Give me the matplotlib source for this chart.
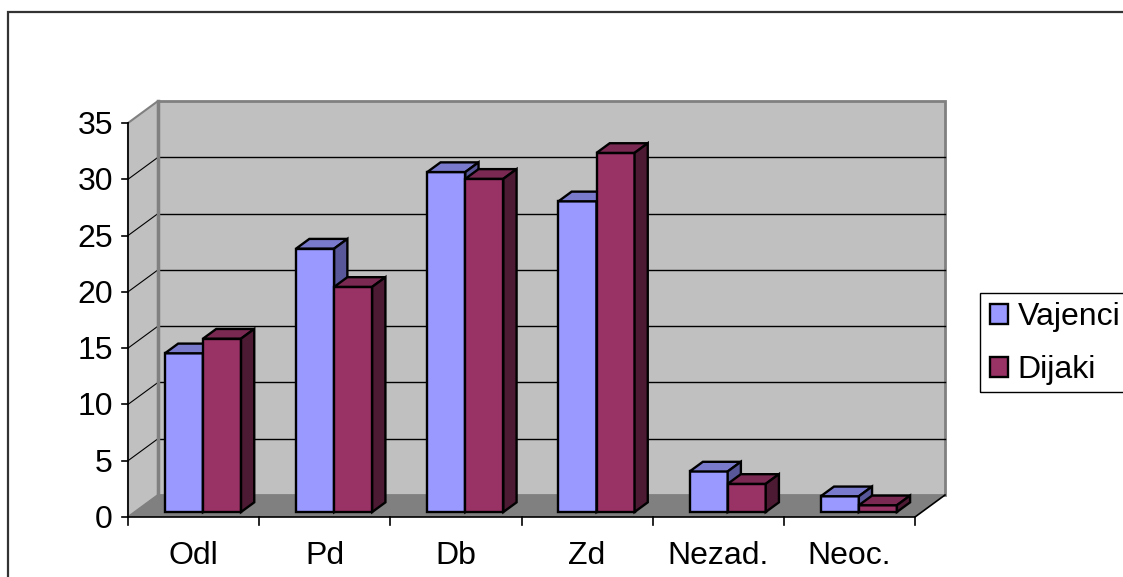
import matplotlib.pyplot as plt
import numpy as np
from matplotlib.patches import Polygon, Rectangle

plt.rcParams['font.family'] = ['Liberation Sans', 'DejaVu Sans']

categories = ['Odl', 'Pd', 'Db', 'Zd', 'Nezad.', 'Neoc.']
vajenci = [14.1, 23.4, 30.2, 27.6, 3.6, 1.4]
dijaki = [15.4, 20.0, 29.6, 31.9, 2.5, 0.6]
series = [('Vajenci', vajenci, '#9999FF', '#7A7ACC', '#575799'),
          ('Dijaki', dijaki, '#993366', '#7A2952', '#4D1A33')]
yticks = [0, 5, 10, 15, 20, 25, 30, 35]

fig = plt.figure(figsize=(11.23, 5.77), dpi=100)
W, H = 1123, 577
# front plane of the plot area in pixels
x0p, x1p, y0p, y1p = 128, 915, 517, 123
ax = fig.add_axes([x0p / W, 1 - y0p / H, (x1p - x0p) / W, (y0p - y1p) / H])
n = len(categories)
ymax = 35
ax.set_xlim(0, n)
ax.set_ylim(0, ymax)
ax.axis('off')

sx = (x1p - x0p) / n          # px per category
sy = (y0p - y1p) / ymax       # px per unit
DX, DY = 30 / sx, 22 / sy     # depth of the 3d box in data units
fs = 23

kw = dict(clip_on=False)
# side wall, back wall, floor
ax.add_patch(Polygon([(0, 0), (DX, DY), (DX, ymax + DY), (0, ymax)], closed=True,
                     fc='#C0C0C0', ec='#808080', lw=1.5, zorder=1, **kw))
ax.add_patch(Polygon([(DX, DY), (n + DX, DY), (n + DX, ymax + DY), (DX, ymax + DY)], closed=True,
                     fc='#C0C0C0', ec='#808080', lw=2, zorder=1, **kw))
ax.add_patch(Polygon([(0, 0), (n, 0), (n + DX, DY), (DX, DY)], closed=True,
                     fc='#808080', ec='none', zorder=2, **kw))
for v in yticks[1:-1]:
    ax.plot([DX, n + DX], [v + DY, v + DY], color='black', lw=1, zorder=2, **kw)
    ax.plot([0, DX], [v, v + DY], color='black', lw=0.8, zorder=2, **kw)
ax.plot([DX, DX], [DY, ymax + DY], color='#808080', lw=2.5, zorder=2, **kw)

# axes lines and ticks
ax.plot([0, 0], [0, ymax], color='black', lw=1.2, zorder=3, **kw)
ax.plot([0, n, n + DX], [0, 0, DY], color='black', lw=1.2, zorder=3, **kw)
tx = 6 / sx
ty = 8 / sy
for v in yticks:
    ax.plot([-tx, 0], [v, v], color='black', lw=1.2, zorder=3, **kw)
    ax.text(-15 / sx, v - 11 / sy, str(v), ha='right', va='baseline', fontsize=fs)
for i in range(n + 1):
    ax.plot([i, i], [0, -ty], color='black', lw=1.2, zorder=3, **kw)
for i, c in enumerate(categories):
    ax.text(i + 0.5, -47 / sy, c, ha='center', va='baseline', fontsize=fs)

# 3d bars
f0, fd = 0.227, 0.44
bw = 0.29
start = 0.23
z = 4
handles = []
for i in range(n):
    for k, (name, vals, front, top, side) in enumerate(series):
        h = vals[i]
        xl = i + start + k * bw + f0 * DX
        yb = f0 * DY
        bdx, bdy = fd * DX, fd * DY
        b = ax.bar(xl, h, width=bw, bottom=yb, align='edge', color=front,
                   edgecolor='black', linewidth=1.7, zorder=z, **kw)
        ax.add_patch(Polygon([(xl, yb + h), (xl + bw, yb + h), (xl + bw + bdx, yb + h + bdy),
                              (xl + bdx, yb + h + bdy)], closed=True, fc=top, ec='black',
                             lw=1.7, zorder=z, **kw))
        ax.add_patch(Polygon([(xl + bw, yb), (xl + bw, yb + h), (xl + bw + bdx, yb + h + bdy),
                              (xl + bw + bdx, yb + bdy)], closed=True, fc=side, ec='black',
                             lw=1.7, zorder=z, **kw))
        z += 1
        if i == 0:
            handles.append(Rectangle((0, 0), 1, 1, fc=front, ec='black', lw=1.7, label=name))

fig.legend(handles=handles, loc='upper left', bbox_to_anchor=(984 / W, 1 - 296 / H),
           fontsize=fs, frameon=False, handlelength=0.55, handleheight=0.55,
           handletextpad=0.3, borderpad=0.2, labelspacing=0.72, borderaxespad=0)
# legend box runs past the right edge, as in the original
fig.patches.append(Rectangle((980 / W, 1 - 392 / H), 0.2, 99 / H, transform=fig.transFigure,
                             fill=False, ec='black', lw=1, zorder=0))

# outer chart border
fig.patches.append(Rectangle((8 / W, -0.05), 1.1, 1 - 12 / H + 0.05, transform=fig.transFigure,
                             fill=False, ec='#333333', lw=1.6, zorder=0))

fig.savefig('out.png', dpi=100)
